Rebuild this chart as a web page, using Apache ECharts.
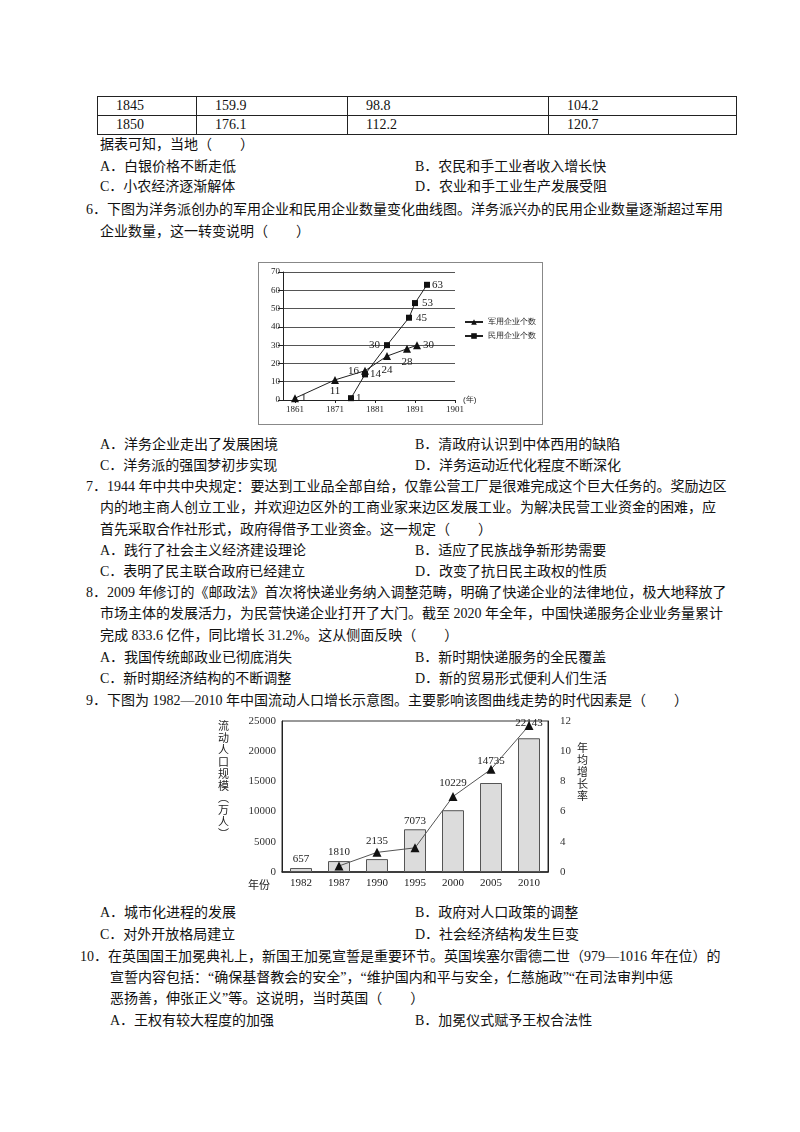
<!DOCTYPE html>
<html><head><meta charset="utf-8">
<script src="https://cdn.jsdelivr.net/npm/echarts@6/dist/echarts.min.js"></script>
<style>
body{margin:0;width:800px;height:1132px;background:#fff;position:relative;font-family:"Liberation Serif","Noto Sans CJK SC",serif;font-size:14px;color:#111}
.t{position:absolute;white-space:nowrap;line-height:20px}
table{position:absolute;left:97px;top:96px;border-collapse:collapse;width:640px;font-size:14px}
td{border:1px solid #222;padding:0 0 0 18px;height:18px;line-height:18px}
#c1{position:absolute;left:258px;top:262px;width:285px;height:163px;border:1px solid #888;box-sizing:border-box}
#c2{position:absolute;left:210px;top:712px;width:390px;height:186px}
</style></head><body>
<table><tr><td style="width:80px">1845</td><td style="width:132px">159.9</td><td style="width:182px">98.8</td><td>104.2</td></tr>
<tr><td>1850</td><td>176.1</td><td>112.2</td><td>120.7</td></tr></table>
<div class="t" style="left:100px;top:135px">据表可知，当地（　　）</div>
<div class="t" style="left:100px;top:157px">A．白银价格不断走低</div>
<div class="t" style="left:415px;top:157px">B．农民和手工业者收入增长快</div>
<div class="t" style="left:100px;top:177px">C．小农经济逐渐解体</div>
<div class="t" style="left:415px;top:177px">D．农业和手工业生产发展受阻</div>
<div class="t" style="left:86px;top:200px">6．下图为洋务派创办的军用企业和民用企业数量变化曲线图。洋务派兴办的民用企业数量逐渐超过军用</div>
<div class="t" style="left:100px;top:222px">企业数量，这一转变说明（　　）</div>
<div id="c1"></div>
<div class="t" style="left:100px;top:435px">A．洋务企业走出了发展困境</div>
<div class="t" style="left:415px;top:435px">B．清政府认识到中体西用的缺陷</div>
<div class="t" style="left:100px;top:456px">C．洋务派的强国梦初步实现</div>
<div class="t" style="left:415px;top:456px">D．洋务运动近代化程度不断深化</div>
<div class="t" style="left:86px;top:477px">7．1944 年中共中央规定：要达到工业品全部自给，仅靠公营工厂是很难完成这个巨大任务的。奖励边区</div>
<div class="t" style="left:100px;top:498px">内的地主商人创立工业，并欢迎边区外的工商业家来边区发展工业。为解决民营工业资金的困难，应</div>
<div class="t" style="left:100px;top:520px">首先采取合作社形式，政府得借予工业资金。这一规定（　　）</div>
<div class="t" style="left:100px;top:541px">A．践行了社会主义经济建设理论</div>
<div class="t" style="left:415px;top:541px">B．适应了民族战争新形势需要</div>
<div class="t" style="left:100px;top:562px">C．表明了民主联合政府已经建立</div>
<div class="t" style="left:415px;top:562px">D．改变了抗日民主政权的性质</div>
<div class="t" style="left:86px;top:583px">8．2009 年修订的《邮政法》首次将快递业务纳入调整范畴，明确了快递企业的法律地位，极大地释放了</div>
<div class="t" style="left:100px;top:604px">市场主体的发展活力，为民营快递企业打开了大门。截至 2020 年全年，中国快递服务企业业务量累计</div>
<div class="t" style="left:100px;top:626px">完成 833.6 亿件，同比增长 31.2%。这从侧面反映（　　）</div>
<div class="t" style="left:100px;top:648px">A．我国传统邮政业已彻底消失</div>
<div class="t" style="left:415px;top:648px">B．新时期快递服务的全民覆盖</div>
<div class="t" style="left:100px;top:669px">C．新时期经济结构的不断调整</div>
<div class="t" style="left:415px;top:669px">D．新的贸易形式便利人们生活</div>
<div class="t" style="left:86px;top:691px">9．下图为 1982—2010 年中国流动人口增长示意图。主要影响该图曲线走势的时代因素是（　　）</div>
<div id="c2"></div>
<div class="t" style="left:100px;top:903px">A．城市化进程的发展</div>
<div class="t" style="left:415px;top:903px">B．政府对人口政策的调整</div>
<div class="t" style="left:100px;top:925px">C．对外开放格局建立</div>
<div class="t" style="left:415px;top:925px">D．社会经济结构发生巨变</div>
<div class="t" style="left:80px;top:947px">10．在英国国王加冕典礼上，新国王加冕宣誓是重要环节。英国埃塞尔雷德二世（979—1016 年在位）的</div>
<div class="t" style="left:110px;top:968px">宣誓内容包括：“确保基督教会的安全”，“维护国内和平与安全，仁慈施政”“在司法审判中惩</div>
<div class="t" style="left:110px;top:989px">恶扬善，伸张正义”等。这说明，当时英国（　　）</div>
<div class="t" style="left:110px;top:1011px">A．王权有较大程度的加强</div>
<div class="t" style="left:415px;top:1011px">B．加冕仪式赋予王权合法性</div>
<script>
// Chart 1 data
const milYears=[1861,1871,1878.5,1884,1889,1891.5];
const milVals=[1,11,16,24,28,30];
const civYears=[1875,1878.5,1884,1889.5,1891,1894];
const civVals=[1,14,30,45,53,63];
const xTicks1=[1861,1871,1881,1891,1901];
// Chart 2 data
const years2=['1982','1987','1990','1995','2000','2005','2010'];
const pop=[657,1810,2135,7073,10229,14735,22143];
const rate=[null,2.4,3.3,3.6,7.0,8.8,11.7];

const milPos=[['right',2],['bottom',2],['left',2],['bottom',4],['bottom',4],['right',2]];
const civPos=[['right',2],['right',2],['left',4],['right',4],['right',4],['right',2]];
const c1=echarts.init(document.getElementById('c1'));
const lbl={fontSize:11,color:'#222',fontFamily:'Liberation Serif'};
c1.setOption({animation:false,
grid:{left:24,top:9,width:172,height:128},
legend:{orient:'vertical',left:200,top:50,itemWidth:18,itemHeight:7,itemGap:6,textStyle:{fontSize:8,color:'#222'},
 data:['军用企业个数','民用企业个数']},
xAxis:{type:'value',min:1858,max:1901,axisLine:{lineStyle:{color:'#222'}},splitLine:{show:false},
 axisTick:{customValues:xTicks1,length:3,lineStyle:{color:'#222'}},
 axisLabel:{customValues:xTicks1,formatter:v=>String(v),fontSize:9,color:'#222',fontFamily:'Liberation Serif',margin:5},
 name:'(年)',nameGap:8,nameTextStyle:{fontSize:8,color:'#222',verticalAlign:'middle'}},
yAxis:{type:'value',min:0,max:70,interval:10,axisLine:{show:true,lineStyle:{color:'#222'}},
 axisLabel:{fontSize:9,color:'#222',fontFamily:'Liberation Serif',margin:3},
 splitLine:{lineStyle:{color:'#555',width:1.2}}},
series:[
{name:'军用企业个数',type:'line',symbol:'triangle',symbolSize:8,lineStyle:{color:'#222',width:1},itemStyle:{color:'#111'},
 data:milYears.map((x,i)=>({value:[x,milVals[i]],label:{show:true,position:milPos[i][0],distance:milPos[i][1],...lbl}}))},
{name:'民用企业个数',type:'line',symbol:'rect',symbolSize:6,lineStyle:{color:'#222',width:1},itemStyle:{color:'#111'},
 data:civYears.map((x,i)=>({value:[x,civVals[i]],label:{show:true,position:civPos[i][0],distance:civPos[i][1],...lbl}}))}
]});

const dist=[3,3,12,3,22,16,10];
const c2=echarts.init(document.getElementById('c2'));
const lbl2={fontSize:11,color:'#222',fontFamily:'Liberation Serif'};
c2.setOption({animation:false,
grid:{left:72,top:9,width:266,height:151,show:true,borderColor:'#333',borderWidth:1},
xAxis:{type:'category',data:years2,axisTick:{show:false},axisLine:{lineStyle:{color:'#222',width:1.5}},
 axisLabel:{fontSize:11,color:'#222',fontFamily:'Liberation Serif',margin:6}},
yAxis:[{type:'value',min:0,max:25000,interval:5000,splitLine:{show:false},axisLine:{show:true,lineStyle:{color:'#222'}},axisTick:{show:false},
 axisLabel:{fontSize:11,color:'#333',fontFamily:'Liberation Serif',margin:6,formatter:v=>String(v)}},
 {type:'value',min:2,max:12,interval:2,splitLine:{show:false},axisLine:{show:true,lineStyle:{color:'#222'}},axisTick:{show:false},
 axisLabel:{fontSize:11,color:'#333',fontFamily:'Liberation Serif',margin:12,formatter:v=>v===2?'0':String(v)}}],
series:[
{type:'bar',barWidth:22,itemStyle:{color:'#dcdcdc',borderColor:'#555',borderWidth:1},
 data:pop.map((v,i)=>({value:v,label:{show:true,position:'top',distance:dist[i],...lbl2}}))},
{type:'line',yAxisIndex:1,symbol:'triangle',symbolSize:9,lineStyle:{color:'#555',width:1},itemStyle:{color:'#111'},data:rate}
],
graphic:[
 {type:'text',left:8,top:8,style:{text:'流\n动\n人\n口\n规\n模\n︵\n万\n人\n︶',fontSize:11,lineHeight:12,fill:'#222',fontFamily:'Noto Sans CJK SC'}},
 {type:'text',left:367,top:30,style:{text:'年\n均\n增\n长\n率',fontSize:11,lineHeight:12,fill:'#222',fontFamily:'Noto Sans CJK SC'}},
 {type:'text',left:38,top:167,style:{text:'年份',fontSize:11,fill:'#222',fontFamily:'Noto Sans CJK SC'}}
]});
</script></body></html>
